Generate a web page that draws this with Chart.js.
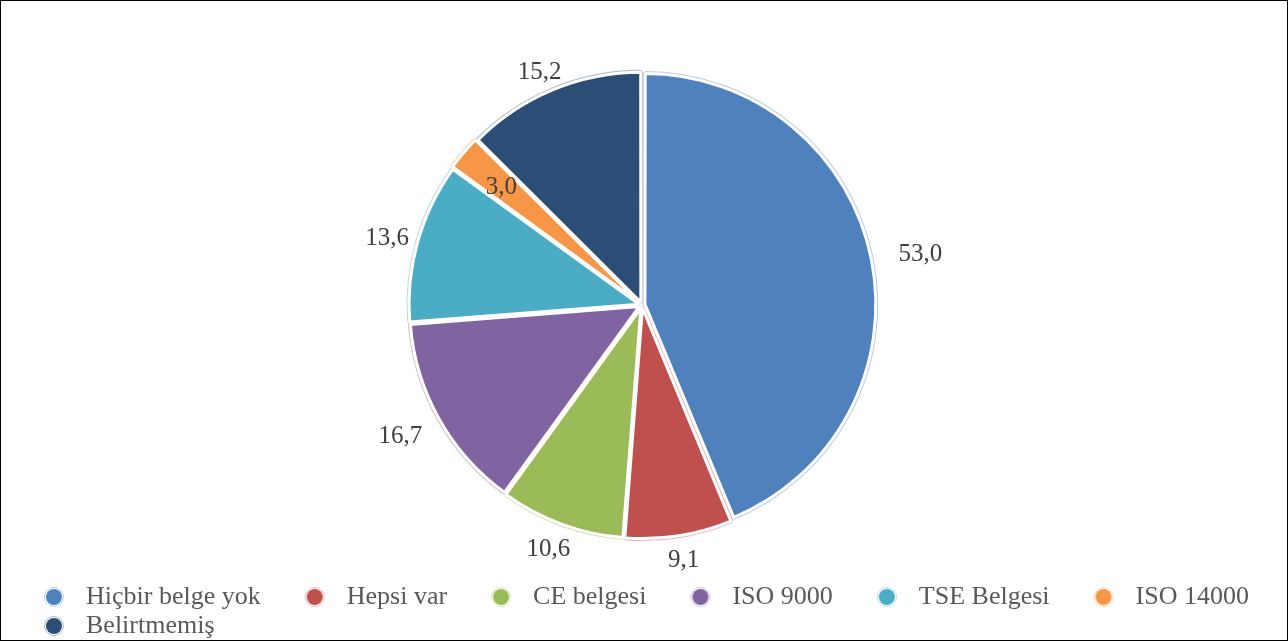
<!DOCTYPE html>
<html>
<head>
<meta charset="utf-8">
<title>Belge durumu</title>
<script src="https://cdn.jsdelivr.net/npm/chart.js@4.4.1/dist/chart.umd.min.js"></script>
<style>
  html, body { margin: 0; padding: 0; background: #ffffff; overflow: hidden; }
  #wrap { position: relative; width: 1288px; height: 641px; overflow: hidden; }
  #chart { position: absolute; left: 0; top: 0; }
  #frame { position: absolute; left: 0; top: 0; width: 1288px; height: 641px;
           box-sizing: border-box; border: 1px solid #000; pointer-events: none; }
</style>
</head>
<body>
<div id="wrap">
  <canvas id="chart" width="1288" height="650" style="width:1288px;height:650px"></canvas>
  <div id="frame"></div>
</div>
<script>
// Categories and their percentages
const categories = ['Hiçbir belge yok', 'Hepsi var', 'CE belgesi', 'ISO 9000', 'TSE Belgesi', 'ISO 14000', 'Belirtmemiş'];
const shares = [53.0, 9.1, 10.6, 16.7, 13.6, 3.0, 15.2];

// Slice colours
const sliceColors = ['#4F81BD', '#C0504D', '#9BBB59', '#8064A2', '#4BACC6', '#F79646', '#2C4D75'];

// Distance (px) of each value label beyond the rim; null puts it inside the slice
const labelGaps = [33, 19, 20.5, 26, 14, null, 15.6];
const insideLabelRatio = 0.806;

function formatValue(v) {
  return v.toFixed(1).replace('.', ',');
}

function tint(hex, amount) {
  const n = parseInt(hex.slice(1), 16);
  const r = (n >> 16) & 255, g = (n >> 8) & 255, b = n & 255;
  const mix = c => Math.round(c + (255 - c) * amount);
  return `rgb(${mix(r)},${mix(g)},${mix(b)})`;
}
const outlineColors = sliceColors.map(c => tint(c, 0.6));

// Legend markers: a filled dot with a pale ring, drawn off-centre in a wide box
function makeMarker(color, ring) {
  const cv = document.createElement('canvas');
  cv.width = 64; cv.height = 24;
  const c = cv.getContext('2d');
  const cx = 48, cy = 12;
  c.beginPath(); c.arc(cx, cy, 9.5, 0, Math.PI * 2);
  c.strokeStyle = ring; c.lineWidth = 1; c.stroke();
  c.beginPath(); c.arc(cx, cy, 8, 0, Math.PI * 2);
  c.fillStyle = color; c.fill();
  return cv;
}
const markers = sliceColors.map((c, i) => makeMarker(c, outlineColors[i]));

// Pale outline just outside each slice's white border
const sliceOutline = {
  id: 'sliceOutline',
  beforeDatasetDraw(chart, args) {
    const ctx = chart.ctx;
    args.meta.data.forEach((arc, i) => {
      const ghost = Object.create(arc);
      ghost.options = Object.assign({}, arc.options, {
        backgroundColor: 'rgba(0,0,0,0)',
        borderColor: outlineColors[i],
        borderWidth: 5,
        borderAlign: 'center'
      });
      arc.draw.call(ghost, ctx);
    });
  }
};

// Value labels around the pie
const valueLabels = {
  id: 'valueLabels',
  afterDatasetsDraw(chart) {
    const ctx = chart.ctx;
    const meta = chart.getDatasetMeta(0);
    const values = chart.data.datasets[0].data;
    ctx.save();
    ctx.font = '25px "Liberation Serif"';
    ctx.fillStyle = '#404040';
    ctx.textAlign = 'center';
    ctx.textBaseline = 'middle';
    meta.data.forEach((arc, i) => {
      const p = arc.getProps(['x', 'y', 'startAngle', 'endAngle', 'outerRadius'], true);
      const mid = (p.startAngle + p.endAngle) / 2;
      const dx = Math.cos(mid), dy = Math.sin(mid);
      const text = formatValue(values[i]);
      let tx, ty;
      if (labelGaps[i] === null) {
        tx = p.x + dx * p.outerRadius * insideLabelRatio;
        ty = p.y + dy * p.outerRadius * insideLabelRatio;
      } else {
        const w = ctx.measureText(text).width;
        const h = 18;
        const r = p.outerRadius + labelGaps[i];
        tx = p.x + dx * r + dx * w / 2;
        ty = p.y + dy * r + dy * h / 2;
      }
      ctx.fillText(text, tx, ty + 2);
    });
    ctx.restore();
  }
};

new Chart(document.getElementById('chart'), {
  type: 'pie',
  data: {
    labels: categories,
    datasets: [{
      data: shares,
      backgroundColor: sliceColors,
      borderColor: '#ffffff',
      borderWidth: 3,
      offset: 12,
      radius: 229
    }]
  },
  options: {
    responsive: false,
    animation: false,
    events: [],
    layout: { padding: { top: 29, left: 0, right: 4, bottom: 1 } },
    plugins: {
      tooltip: { enabled: false },
      legend: {
        position: 'bottom',
        align: 'start',
        labels: {
          usePointStyle: true,
          pointStyleWidth: 70,
          padding: 3,
          color: '#595959',
          font: { family: 'Liberation Serif', size: 26 },
          generateLabels(chart) {
            return chart.data.labels.map((label, i) => ({
              text: label,
              fillStyle: sliceColors[i],
              strokeStyle: sliceColors[i],
              lineWidth: 0,
              pointStyle: markers[i],
              fontColor: '#595959',
              hidden: !chart.getDataVisibility(i),
              index: i
            }));
          }
        }
      }
    }
  },
  plugins: [sliceOutline, valueLabels]
});
</script>
</body>
</html>
